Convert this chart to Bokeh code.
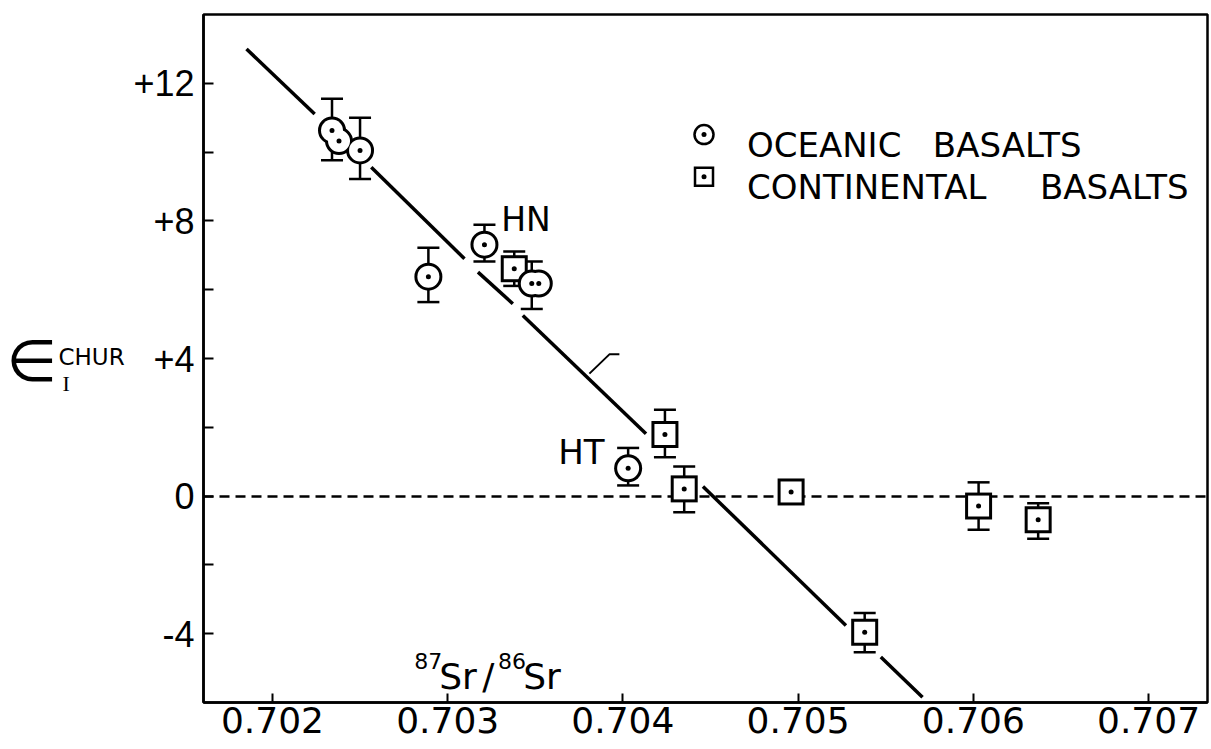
from bokeh.plotting import figure
from bokeh.layouts import row
from bokeh.models import FixedTicker, NumeralTickFormatter, Label, Range1d
from bokeh.core.properties import value
from bokeh.embed import file_html
from bokeh.resources import INLINE

# Initial 87Sr/86Sr against epsilon-Nd (CHUR); lo/hi give the error bar ends (None = no bar)
oceanic_sr = [0.70234, 0.70238, 0.70250, 0.70289, 0.70321, 0.70348, 0.70352, 0.70403]
oceanic_eps = [10.63, 10.32, 10.05, 6.38, 7.31, 6.18, 6.18, 0.81]
oceanic_lo = [9.76, None, 9.22, 5.64, 6.82, 5.44, None, 0.31]
oceanic_hi = [11.55, None, 11.00, 7.22, 7.89, 6.82, None, 1.40]

continental_sr = [0.70338, 0.70424, 0.70435, 0.70496, 0.70538, 0.70603, 0.70637]
continental_eps = [6.61, 1.79, 0.21, 0.12, -3.96, -0.29, -0.69]
continental_lo = [6.11, 1.13, -0.47, None, -4.54, -0.98, -1.24]
continental_hi = [7.11, 2.51, 0.86, None, -3.40, 0.40, -0.21]

# mantle correlation line, drawn in broken pieces between the symbols
trend_sr = [[0.701852, 0.702241], [0.702564, 0.703096], [0.703173, 0.703372],
            [0.703429, 0.704132], [0.704457, 0.705273], [0.705472, 0.705710]]
trend_eps = [[13.00, 11.11], [9.56, 6.90], [6.51, 5.59],
             [5.25, 1.81], [0.28, -3.76], [-4.68, -5.85]]
pointer_sr = [0.703809, 0.703923, 0.703980]
pointer_eps = [3.56, 4.12, 4.12]

x_ticks = [0.702, 0.703, 0.704, 0.705, 0.706, 0.707]
y_ticks = [-4, 0, 4, 8, 12]
y_tick_labels = ["-4", "0", "+4", "+8", "+12"]
y_minor_ticks = [-2, 2, 6, 10]

FONT = "DejaVu Sans"
INK = "black"
TOP, BOTTOM = 14, 47

eps_range = Range1d(-6, 14)

p = figure(width=1081, height=749,
           x_range=(0.7016066, 0.7073364), y_range=eps_range,
           output_backend="svg", toolbar_location=None,
           min_border_left=72, min_border_right=4,
           min_border_top=TOP, min_border_bottom=BOTTOM)
p.grid.visible = False
p.background_fill_color = "white"
p.border_fill_color = "white"
p.outline_line_color = INK
p.outline_line_width = 2.5

# axes
xa = p.xaxis[0]
xa.ticker = FixedTicker(ticks=x_ticks)
xa.formatter = NumeralTickFormatter(format="0.000")
xa.major_tick_in = 9
xa.major_tick_out = 0
xa.minor_tick_line_color = None
xa.axis_line_width = 2.5
xa.major_tick_line_width = 2
xa.major_label_standoff = 4
xa.major_label_text_font = FONT
xa.major_label_text_font_size = "36px"
xa.major_label_text_color = INK

ya = p.yaxis[0]
ya.ticker = FixedTicker(ticks=y_ticks, minor_ticks=y_minor_ticks)
ya.major_label_overrides = {t: s for t, s in zip(y_ticks, y_tick_labels)}
ya.major_tick_in = 10
ya.major_tick_out = 0
ya.minor_tick_in = 10
ya.minor_tick_out = 0
ya.axis_line_width = 2.5
ya.major_tick_line_width = 2
ya.minor_tick_line_width = 2
ya.minor_tick_line_color = INK
ya.major_label_standoff = 9
ya.major_label_text_font = "Liberation Sans"
ya.major_label_text_font_size = "36px"
ya.major_label_text_color = INK

# zero (CHUR) reference line
p.hspan(y=[0], line_color=INK, line_width=2.5, line_dash="10 6")

# correlation line and its pointer
p.multi_line(xs=trend_sr, ys=trend_eps, line_color=INK, line_width=3.5)
p.line(pointer_sr, pointer_eps, line_color=INK, line_width=2)


def error_bars(xs, lo, hi):
    bx = [x for x, a in zip(xs, lo) if a is not None]
    blo = [a for a in lo if a is not None]
    bhi = [b for b in hi if b is not None]
    p.segment(x0=bx, y0=blo, x1=bx, y1=bhi, line_color=INK, line_width=2.5)
    p.scatter(bx + bx, blo + bhi, marker="dash", size=22,
              line_color=INK, line_width=2.5)


def symbols(xs, ys, marker, size, ring=3):
    p.scatter(xs, ys, marker=marker, size=size + ring,
              fill_color=INK, line_color=None)
    p.scatter(xs, ys, marker=marker, size=size - ring,
              fill_color="white", line_color=None)
    p.scatter(xs, ys, marker="circle", size=5, fill_color=INK, line_color=None)


error_bars(continental_sr, continental_lo, continental_hi)
error_bars(oceanic_sr, oceanic_lo, oceanic_hi)
symbols(continental_sr, continental_eps, "square", 24)
symbols(oceanic_sr, oceanic_eps, "circle", 25)

# key
symbols([0.704463], [10.51], "circle", 19, ring=2.5)
symbols([0.704463], [9.28], "square", 18, ring=2.5)


def label(x, y, text, size, font=FONT, align="left", baseline="alphabetic"):
    p.add_layout(Label(x=x, y=y, text=text, text_font=font,
                       text_font_size=size, text_color=INK,
                       text_align=align, text_baseline=baseline))


label(0.704708, 10.22, "OCEANIC", "34px")
label(0.705769, 10.22, "BASALTS", "34px")
label(0.704708, 8.99, "CONTINENTAL", "34px")
label(0.706380, 8.99, "BASALTS", "34px")

label(0.703306, 8.04, "HN", "33px")
label(0.703631, 1.27, "HT", "34px")

# x quantity: 87Sr/86Sr
label(0.702810, -4.78, "87", "22px")
label(0.702952, -5.24, "Sr", "36px")
label(0.703197, -5.24, "/", "36px")
label(0.703288, -4.78, "86", "22px")
label(0.703431, -5.24, "Sr", "36px")

# y quantity (epsilon CHUR, initial) in a narrow strip sharing the epsilon scale
side = figure(width=130, height=749, x_range=Range1d(0, 130), y_range=eps_range,
              x_axis_location=None, y_axis_location=None,
              output_backend="svg", toolbar_location=None,
              min_border_left=0, min_border_right=0,
              min_border_top=TOP, min_border_bottom=BOTTOM)
side.outline_line_color = None
side.grid.visible = False
side.text(x=[6], y=[3.94], text=["\u2208"], text_font=value(FONT),
          text_font_size="58px", text_align="left", text_baseline="middle",
          text_color=INK)
side.text(x=[58], y=[4.03], text=["CHUR"], text_font=value(FONT),
          text_font_size="23px", text_align="left", text_baseline="alphabetic",
          text_color=INK)
side.text(x=[62], y=[3.27], text=["I"], text_font=value("Liberation Serif"),
          text_font_size="22px", text_align="left", text_baseline="alphabetic",
          text_color=INK)

layout = row(side, p)
open("out.html", "w").write(file_html(layout, INLINE))
